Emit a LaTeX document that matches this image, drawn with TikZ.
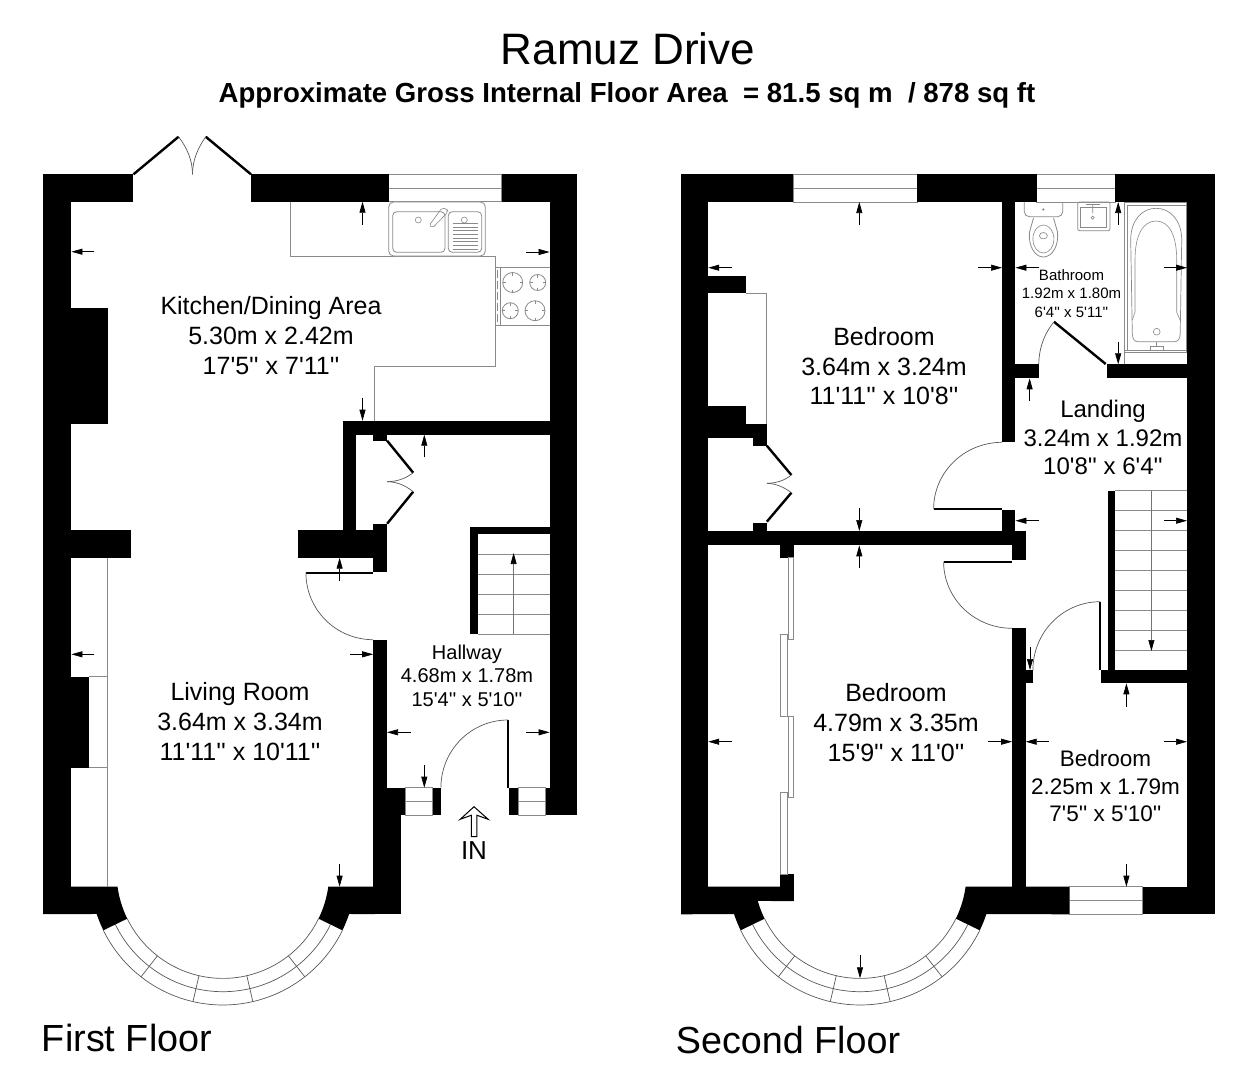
\documentclass[tikz,border=0pt]{standalone}
\usepackage{fontspec}
\setmainfont{Liberation Sans}[Ligatures=TeXOff]
\usetikzlibrary{arrows.meta}
\definecolor{thin}{HTML}{8A8A8A}
\tikzset{
 x=1pt,y=-1pt,
 fine/.style={draw=thin,line width=0.8pt},
 finedark/.style={draw=black!65,line width=0.7pt},
 leaf/.style={draw=black,line width=2.4pt},
 dim/.style={draw=black,line width=0.7pt,-{Triangle[length=11pt,width=6pt]}},
 flight/.style={draw=black!55,line width=0.7pt,-{Triangle[length=11pt,width=6pt,color=black]}},
 winbox/.style={draw=thin,line width=0.8pt,fill=white},
 room/.style={align=center,inner sep=0pt,anchor=center},
}
\newcommand{\blk}[4]{\fill[black] (#1,#3) rectangle (#2,#4);}
\newcommand{\winh}[4]{\draw[winbox] (#1,#3) rectangle (#2,#4); \draw[fine] (#1,{(#3+#4)/2}) -- (#2,{(#3+#4)/2});}
\newcommand{\bayw}[1]{%
 \foreach \rr in {106.4,119.7,133}{\draw[finedark] plot[domain=26:154,samples=60] ({#1+\rr*cos(\x)},{872+\rr*sin(\x)});}
 \foreach \aa in {52,77,103,128}{\draw[finedark] ({#1+106.4*cos(\aa)},{872+106.4*sin(\aa)}) -- ({#1+133*cos(\aa)},{872+133*sin(\aa)});}
}
\newcommand{\burner}[3]{\draw[fine] (#1,#2) circle[radius=#3];
 \draw[fine,line width=0.5pt] ({#1-#3},#2) -- ({#1-#3+3},#2) ({#1+#3},#2) -- ({#1+#3-3},#2) (#1,{#2-#3}) -- (#1,{#2-#3+3}) (#1,{#2+#3}) -- (#1,{#2+#3-3});}
\begin{document}
\begin{tikzpicture}
\useasboundingbox (0,0) rectangle (1257,1080);
\fill[white] (0,0) rectangle (1257,1080);

%% ---------- FIRST FLOOR ----------
\winh{388.6}{501.8}{174.3}{201.7}
\winh{405}{432.5}{787.7}{815}
\winh{517.9}{545.7}{787.7}{815}
\bayw{222.9}
\blk{43}{133.2}{174.3}{201.7}
\blk{251.4}{388.6}{174.3}{201.7}
\blk{501.8}{577}{174.3}{201.7}
\blk{43}{71.4}{174.3}{914}
\blk{549.6}{577}{174.3}{815}
\blk{71}{107.5}{308.3}{423.7}
\blk{71}{131}{530}{557.7}
\blk{343}{549.6}{420.7}{434.7}
\blk{343}{356.4}{420.7}{530}
\blk{297.5}{373.2}{530}{557.7}
\blk{373.2}{387}{524.3}{571.7}
\blk{373.2}{387}{434.7}{440.7}
\blk{373.2}{387}{639.7}{787.7}
\blk{373.2}{405}{787.7}{815}
\blk{373.2}{400.7}{815}{914}
\blk{432.5}{441}{787.7}{815}
\blk{509}{517.9}{787.7}{815}
\blk{545.7}{577}{787.7}{815}
\blk{71}{89.3}{676.7}{767.7}
\fill[black] (43,886.7) -- plot[domain=172.1:154,samples=20] ({222.9+106.4*cos(\x)},{872+106.4*sin(\x)}) -- plot[domain=154:161.6,samples=10] ({222.9+133*cos(\x)},{872+133*sin(\x)}) -- (43,914) -- cycle;
\fill[black] (375,886.7) -- plot[domain=7.9:26,samples=20] ({222.9+106.4*cos(\x)},{872+106.4*sin(\x)}) -- plot[domain=26:18.4,samples=10] ({222.9+133*cos(\x)},{872+133*sin(\x)}) -- (375,914) -- cycle;
% stairs
\blk{470.4}{477.5}{527.3}{634}
\blk{470.4}{549.6}{527.3}{534.3}
\foreach \yy in {554.3,574.3,594.3,614,634}{\draw[fine] (477.5,\yy) -- (549.6,\yy);}
\draw[flight] (513.6,634) -- (513.6,553);
% units
\draw[fine] (290.7,201.7) -- (290.7,256) -- (495.4,256) -- (495.4,366.3) -- (374.3,366.3) -- (374.3,420.7);
\draw[fine] (495.4,267.7) -- (549.6,267.7) (495.4,325.3) -- (549.6,325.3) (500.7,267.7) -- (500.7,325.3);
\draw[fine,dash pattern=on 8pt off 3pt,line width=0.5pt] (497.6,270) -- (497.6,323);
\burner{512.7}{282.5}{10}
\burner{537.7}{282.5}{8}
\burner{510.3}{310.7}{8}
\burner{535}{310.7}{10}
\draw[fine,rounded corners=5pt,fill=white] (388.7,201.9) rectangle (485.3,256);
\draw[fine,rounded corners=4pt] (392.7,211.7) rectangle (445,252.3);
\draw[fine,rounded corners=4pt] (448.3,211.7) rectangle (481.7,252.3);
\draw[fine,line width=0.6pt] (418.3,220) circle[radius=3];
\draw[fine,line width=0.6pt] (464.3,220) circle[radius=3];
\draw[fine,line width=0.6pt,rounded corners=2pt] (447,209) -- (442,207.8) -- (429.3,225.3) -- (432.4,228) -- (448,212) -- cycle;
\foreach \i in {0,...,7}{\draw[fine,line width=0.5pt] (452.7,{223.3+\i*3.67}) -- (478.3,{223.3+\i*3.67});}
% living-room gray
\draw[fine] (107.5,557.7) -- (107.5,886.7) (89.3,676.7) -- (107.5,676.7) (89.3,767.7) -- (107.5,767.7);
% doors
\draw[leaf] (133.5,174.3) -- (178.6,136.7);
\draw[leaf] (251,174.3) -- (205.7,136.7);
\draw[finedark] (178.6,136.7) .. controls (187,148) and (192.5,160) .. (192.5,174.3);
\draw[finedark] (205.7,136.7) .. controls (198,148) and (192.5,160) .. (192.5,174.3);
\draw[leaf] (387.1,440.7) -- (413.2,472.7);
\draw[leaf] (387.1,523.7) -- (413.2,491.7);
\draw[finedark] (413.2,472.7) .. controls (405,479) and (396,481.7) .. (387.1,481.7);
\draw[finedark] (413.2,491.7) .. controls (405,485) and (396,481.7) .. (387.1,481.7);
\draw[leaf] (305.7,572.7) -- (373.2,572.7);
\draw[finedark] plot[domain=180:90,samples=40] ({373.2+67.3*cos(\x)},{572.7+67*sin(\x)});
\draw[leaf] (507.9,720) -- (507.9,787.7);
\draw[finedark] plot[domain=270:180,samples=40] ({507.9+67*cos(\x)},{787.7+67.7*sin(\x)});
% in-arrow
\draw[black,line width=1pt,fill=white] (474,806.7) -- (488.2,819.3) -- (476.8,815.2) -- (476.8,836.7) -- (471.4,836.7) -- (471.4,815.2) -- (460.2,819.3) -- cycle;
% dimension arrows
\draw[dim] (94.3,251.7) -- (71.4,251.7);
\draw[dim] (362.5,225) -- (362.5,201.7);
\draw[dim] (526.4,252) -- (549.6,252);
\draw[dim] (362.5,397.7) -- (362.5,420.7);
\draw[dim] (424.3,457.3) -- (424.3,434.7);
\draw[dim] (339.6,581) -- (339.6,557.7);
\draw[dim] (94.3,654.3) -- (71.4,654.3);
\draw[dim] (350.4,654.3) -- (373.2,654.3);
\draw[dim] (410.7,732.3) -- (387,732.3);
\draw[dim] (526.4,732.3) -- (549.6,732.3);
\draw[dim] (424.3,765) -- (424.3,787.7);
\draw[dim] (339.6,864) -- (339.6,886.7);

%% ---------- SECOND FLOOR ----------
\winh{792.9}{917.1}{174.3}{202}
\winh{1036.8}{1115.4}{174.3}{202}
\winh{1069.3}{1142.5}{886.7}{914.3}
\bayw{860.2}
\blk{681}{792.9}{174.3}{202}
\blk{917.1}{1036.8}{174.3}{202}
\blk{1115.4}{1214.6}{174.3}{202}
\blk{681}{708.2}{174.3}{914.3}
\blk{1187}{1214.6}{174.3}{914.3}
\blk{708}{746.1}{275.7}{293.3}
\blk{708}{746.1}{405.7}{424}
\blk{708}{766.8}{424}{437.7}
\blk{752.9}{766.8}{437.7}{445.7}
\blk{752.9}{766.8}{523.3}{531}
\blk{708}{1025.7}{531}{545.3}
\blk{1012.1}{1025.7}{531}{560.3}
\blk{1002}{1015.4}{510}{531}
\blk{1002}{1015.4}{202}{442.3}
\blk{1015.4}{1038.9}{364.3}{378.3}
\blk{1106.8}{1187}{364.3}{378.3}
\blk{780}{793.6}{545.3}{557.7}
\blk{780}{793.6}{874}{901}
\blk{1012.1}{1025.7}{628.3}{886.7}
\blk{1025.7}{1032.9}{670}{683.3}
\blk{1101}{1187}{670}{683.3}
\blk{1107.5}{1115}{490.7}{670}
\blk{1142.5}{1214.6}{886.7}{914.3}
\fill[black] (681,886.7) -- (793.6,886.7) -- (793.6,901) -- plot[domain=164.2:154,samples=15] ({860.2+106.4*cos(\x)},{872+106.4*sin(\x)}) -- plot[domain=154:161.6,samples=10] ({860.2+133*cos(\x)},{872+133*sin(\x)}) -- (681,914.3) -- cycle;
\fill[black] (1069.3,886.7) -- plot[domain=7.9:26,samples=20] ({860.2+106.4*cos(\x)},{872+106.4*sin(\x)}) -- plot[domain=26:18.4,samples=10] ({860.2+133*cos(\x)},{872+133*sin(\x)}) -- (1069.3,914.3) -- cycle;
% stairs
\draw[fine] (1115,490.7) -- (1187,490.7);
\foreach \yy in {510,530,550,570,590,610,630,650}{\draw[fine] (1115,\yy) -- (1187,\yy);}
\draw[flight] (1151.4,490.7) -- (1151.4,651);
% wardrobes
\draw[fine] (746.1,293.3) -- (766.8,293.3) -- (766.8,424);
\draw[fine] (787.9,557.7) rectangle (793.6,639.3);
\draw[fine] (780,634.3) rectangle (787.1,716);
\draw[fine] (787.9,716) rectangle (793.6,797.7);
\draw[fine] (780,792.3) rectangle (787.1,874);
% doors
\draw[leaf] (766.8,445.7) -- (791.4,475);
\draw[leaf] (791.4,492.7) -- (766.8,521.7);
\draw[finedark] (791.4,475) .. controls (784,481) and (775,483.3) .. (766.8,483.3);
\draw[finedark] (791.4,492.7) .. controls (784,487) and (775,483.3) .. (766.8,483.3);
\draw[leaf] (933.6,509) -- (1002,509);
\draw[finedark] plot[domain=180:270,samples=40] ({1002+68.4*cos(\x)},{509+66.7*sin(\x)});
\draw[leaf] (943.6,561.7) -- (1012.1,561.7);
\draw[finedark] plot[domain=180:90,samples=40] ({1012.1+68.5*cos(\x)},{561.7+66.6*sin(\x)});
\draw[leaf] (1100,601.7) -- (1100,670);
\draw[finedark] plot[domain=270:180,samples=40] ({1100+67.1*cos(\x)},{670+68.3*sin(\x)});
\draw[leaf] (1105.7,364) -- (1053.9,321.7);
\draw[finedark] plot[domain=219:180,samples=30] ({1105.7+66.9*cos(\x)},{364.3+66.9*sin(\x)});
% bathroom fittings
\draw[fine] (1124.3,202.7) rectangle (1186.7,352.7);
\draw[fine] (1124.3,350) -- (1186.7,350) (1124.3,350) -- (1124.3,364.3);
\draw[fine,line width=0.6pt] (1127,205) -- (1127,350) (1127,205) -- (1186.7,205);
\draw[fine,line width=0.7pt] (1130.7,240) .. controls (1130.7,220) and (1142,208.3) .. (1156.2,208.3) .. controls (1170,208.3) and (1181.7,220) .. (1181.7,240) -- (1180.2,334) .. controls (1180,339) and (1178,341.7) .. (1174,341.7) -- (1138,341.7) .. controls (1134.5,341.7) and (1132.5,339) .. (1132.3,334) -- cycle;
\draw[fine,line width=0.6pt] (1132.3,320) -- (1135,312) -- (1135,260) .. controls (1135,235) and (1143,221) .. (1156,221) .. controls (1169,221) and (1176.7,235) .. (1176.7,260) -- (1176.7,312) -- (1180,320);
\draw[fine,line width=0.6pt] (1156.7,331.7) circle[radius=3.4];
\draw[fine,line width=0.6pt] (1150,346) rectangle (1163.3,350.7) (1156.7,342) -- (1156.7,346);
% basin
\draw[fine,rounded corners=2pt] (1077.7,201.9) rectangle (1110,230.7);
\draw[fine,line width=0.6pt] (1080.7,207.5) rectangle (1106.7,227.7);
\draw[fine,line width=0.6pt] (1092.7,217.7) circle[radius=1.6] (1086,204.5) -- (1100,204.5) (1092.7,204.5) -- (1092.7,213);
% wc
\draw[fine,rounded corners=5pt] (1024.3,202.2) -- (1024.3,216.7) -- (1062.7,216.7) -- (1062.7,202.2);
\draw[fine] (1033.5,218) -- (1029.5,232) .. controls (1028,246) and (1035,257) .. (1043.4,257) .. controls (1052,257) and (1059,246) .. (1057.5,232) -- (1053.5,218);
\draw[fine,line width=0.6pt] (1043.4,239) ellipse[x radius=10.5,y radius=14];
\draw[fine,line width=0.6pt] (1043.4,235.7) ellipse[x radius=4,y radius=3.2];
\draw[fine,line width=0.6pt] (1043.4,209.5) circle[radius=0.8];
% dimension arrows
\draw[dim] (859.3,225) -- (859.3,202);
\draw[dim] (731.8,267.7) -- (708.2,267.7);
\draw[dim] (978.2,267.7) -- (1002,267.7);
\draw[dim] (1038.6,267.7) -- (1015.4,267.7);
\draw[dim] (1164.3,267.7) -- (1187,267.7);
\draw[dim] (1118.2,225) -- (1118.2,202);
\draw[dim] (1118.2,341.7) -- (1118.2,364.3);
\draw[dim] (1029.6,401.3) -- (1029.6,378.3);
\draw[dim] (1038.6,520.7) -- (1015.4,520.7);
\draw[dim] (1164.3,520.7) -- (1187,520.7);
\draw[dim] (859.3,508.3) -- (859.3,531);
\draw[dim] (859.3,568.3) -- (859.3,545.3);
\draw[dim] (1030,646.7) -- (1030,670);
\draw[dim] (1126.4,706.7) -- (1126.4,683.3);
\draw[dim] (731.8,741.7) -- (708.2,741.7);
\draw[dim] (987.9,741.7) -- (1012.1,741.7);
\draw[dim] (1048.6,741.7) -- (1025.7,741.7);
\draw[dim] (1164.3,741.7) -- (1187,741.7);
\draw[dim] (1126.4,864) -- (1126.4,886.7);
\draw[dim] (860,955) -- (860,978.3);

%% ---------- TEXT ----------
\node[room,font=\fontsize{44}{50}\selectfont] (title) at (628,49) {Ramuz Drive};
\node[room,font=\fontsize{27.6}{30}\selectfont\bfseries] (sub) at (627,95.5) {Approximate Gross Internal Floor Area\ \ = 81.5 sq m\ \ / 878 sq ft};
\node[room,font=\fontsize{25}{30}\selectfont] (kit) at (271,336) {Kitchen/Dining Area\\5.30m x 2.42m\\17'5'' x 7'11''};
\node[room,font=\fontsize{25}{30}\selectfont] (liv) at (240,722) {Living Room\\3.64m x 3.34m\\11'11'' x 10'11''};
\node[room,font=\fontsize{20}{23.5}\selectfont] (hall) at (467,675.5) {Hallway\\4.68m x 1.78m\\15'4'' x 5'10''};
\node[room,font=\fontsize{24}{28.5}\selectfont] (land) at (1103,437.5) {Landing\\3.24m x 1.92m\\10'8'' x 6'4''};
\node[room,font=\fontsize{25}{29.5}\selectfont] (bed1) at (884,366.5) {Bedroom\\3.64m x 3.24m\\11'11'' x 10'8''};
\node[room,font=\fontsize{25}{30}\selectfont] (bed2) at (896,723) {Bedroom\\4.79m x 3.35m\\15'9'' x 11'0''};
\node[room,font=\fontsize{22.5}{27.5}\selectfont] (bed3) at (1105.5,786) {Bedroom\\2.25m x 1.79m\\7'5'' x 5'10''};
\node[room,font=\fontsize{15}{18.5}\selectfont] (bath) at (1071.5,293.5) {Bathroom\\1.92m x 1.80m\\6'4'' x 5'11''};
\node[room,font=\fontsize{26}{28}\selectfont] (in) at (474,851) {IN};
\node[room,font=\fontsize{37.8}{42}\selectfont] (ff) at (127,1038) {First Floor};
\node[room,font=\fontsize{37.7}{42}\selectfont] (sf) at (788,1040) {Second Floor};
\end{tikzpicture}
\end{document}
